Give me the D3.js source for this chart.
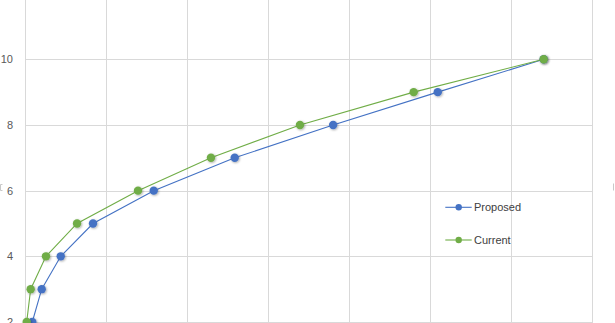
<!DOCTYPE html>
<html><head><meta charset="utf-8">
<script src="https://cdn.jsdelivr.net/npm/d3@7"></script>
<style>html,body{margin:0;padding:0;background:#fff;overflow:hidden}</style>
</head><body>
<svg id="c" width="615" height="323"></svg>
<script>
const yValues = [2, 3, 4, 5, 6, 7, 8, 9, 10];
const proposedX = [0.96, 2.12, 4.47, 8.45, 15.94, 25.93, 38.07, 50.97, 64.04];
const currentX  = [0.27, 0.76, 2.65, 6.48, 14.0, 23.0, 33.98, 48.0, 64.04];
const yTicks = [0, 2, 4, 6, 8, 10, 12];
const xTicks = [0, 10, 20, 30, 40, 50, 60, 70];
const seriesNames = ["Proposed", "Current"];
const seriesColors = ["#4472C4", "#70AD47"];

const svg = d3.select("#c");
const x = d3.scaleLinear().domain([0, 70]).range([24.5, 592]);
const y = d3.scaleLinear().domain([0, 12]).range([387.7, -6.4]);

const defs = svg.append("defs");
const f = defs.append("filter").attr("id","sh").attr("x","-50%").attr("y","-50%").attr("width","200%").attr("height","200%");
f.append("feDropShadow").attr("dx",0.8).attr("dy",0.8).attr("stdDeviation",1).attr("flood-color","#000").attr("flood-opacity",0.35);

// gridlines
const gx = svg.append("g").attr("transform","translate(0,0)")
  .call(d3.axisBottom(x).tickValues(xTicks).tickSize(400).tickFormat(""));
gx.attr("transform","translate(0,-70)");
gx.select(".domain").remove();
gx.selectAll("line").attr("stroke","#d9d9d9").attr("shape-rendering","crispEdges");

const gy = svg.append("g").attr("transform","translate(592,0)")
  .call(d3.axisLeft(y).tickValues(yTicks).tickSize(592-24.5).tickFormat(""));
gy.select(".domain").remove();
gy.selectAll("line").attr("stroke","#d9d9d9").attr("shape-rendering","crispEdges");

// y labels
const gl = svg.append("g").attr("transform","translate(13,0)")
  .call(d3.axisLeft(y).tickValues(yTicks.filter(v=>v>=2 && v<=10)).tickSize(0).tickPadding(0));
gl.select(".domain").remove();
gl.selectAll("text").attr("fill","#595959").style("font-family","'Liberation Sans', Arial, sans-serif").style("font-size","11px");

// tiny edge marks
svg.append("path").attr("d","M2.5,184.5 H0.5 V190.5 H2.5").attr("fill","none").attr("stroke","#c8c8c8");
svg.append("path").attr("d","M613.5,183.5 V190.5").attr("fill","none").attr("stroke","#c8c8c8");

const data = [proposedX, currentX].map((xs,i)=>({name:seriesNames[i], color:seriesColors[i], pts: xs.map((xv,j)=>[xv, yValues[j]])}));

const line = d3.line().x(d=>x(d[0])).y(d=>y(d[1]));
data.forEach(s=>{
  svg.append("path").attr("d", line(s.pts)).attr("fill","none").attr("stroke", s.color).attr("stroke-width",1.1);
});
data.forEach(s=>{
  svg.append("g").selectAll("circle").data(s.pts).join("circle")
    .attr("cx",d=>x(d[0])).attr("cy",d=>y(d[1])).attr("r",4.2)
    .attr("fill",s.color).attr("filter","url(#sh)");
});

// legend
const lg = svg.append("g");
data.forEach((s,i)=>{
  const ly = 207.3 + i*32.7;
  lg.append("line").attr("x1",445.3).attr("x2",471.7).attr("y1",ly).attr("y2",ly).attr("stroke",s.color).attr("stroke-width",1.1);
  lg.append("circle").attr("cx",458.7).attr("cy",ly).attr("r",3.2).attr("fill",s.color);
  lg.append("text").attr("x",474).attr("y",ly).attr("dy","0.35em").text(s.name)
    .attr("fill","#404040").style("font-family","'Liberation Sans', Arial, sans-serif").style("font-size","11px");
});
</script>
</body></html>
